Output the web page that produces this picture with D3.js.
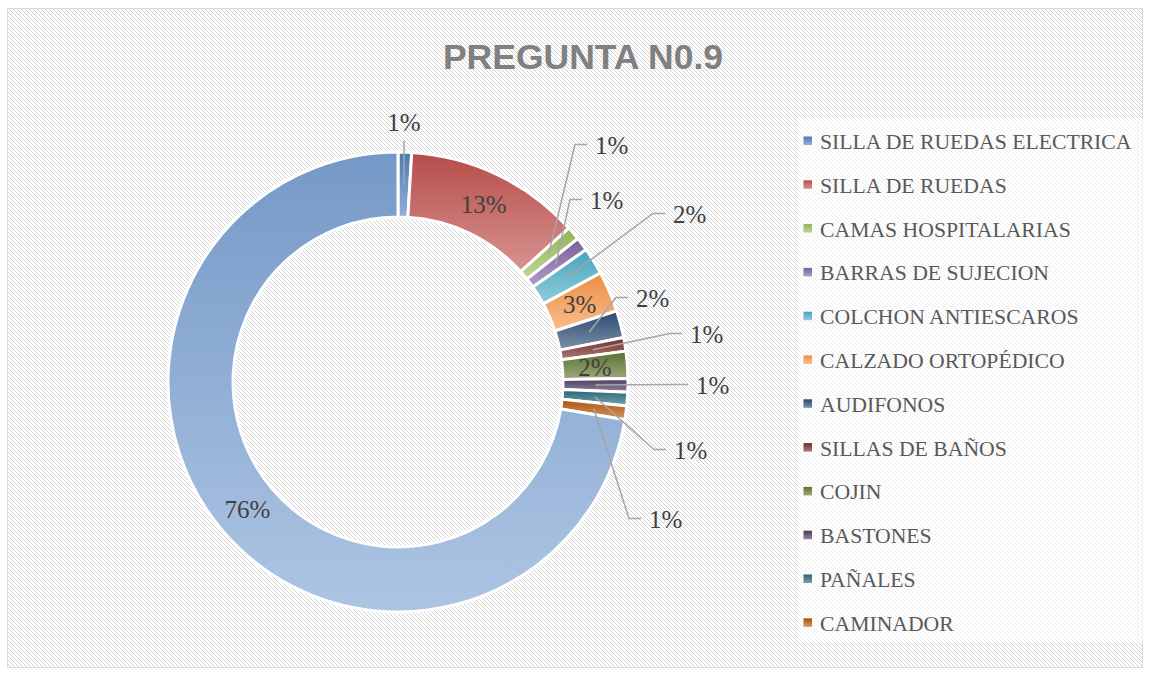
<!DOCTYPE html>
<html>
<head>
<meta charset="utf-8">
<script src="https://cdn.jsdelivr.net/npm/d3@7"></script>
<style>
  body { margin: 0; background: #fff; }
  svg { display: block; }
</style>
</head>
<body>
<div id="chart"></div>
<script>
// data (values were typed as percents, they add to 105)
const categories = ["SILLA DE RUEDAS ELECTRICA", "SILLA DE RUEDAS", "CAMAS HOSPITALARIAS",
  "BARRAS DE SUJECION", "COLCHON ANTIESCAROS", "CALZADO ORTOPÉDICO", "AUDIFONOS",
  "SILLAS DE BAÑOS", "COJIN", "BASTONES", "PAÑALES", "CAMINADOR", "NINGUNO"];
const values = [1, 13, 1, 1, 2, 3, 2, 1, 2, 1, 1, 1, 76];
const colors = ["#4F81BD", "#C0504D", "#9BBB59", "#8064A2", "#4BACC6", "#F79646",
  "#2C4D75", "#772C2A", "#5F7530", "#4D3B62", "#276A7C", "#B65708", "#7BA1D2"];
const legendCount = 12; // the last category does not fit in the legend box

// outside label spots (offset from the donut centre), null = label inside the slice
const labelSpots = [[6, -251], null, [197, -228], [192, -173], [275, -159], null,
  [238, -75], [292, -39], null, [298, 12], [276, 77], [251, 146], null];

const width = 1149, height = 675;
const cx = 398, cy = 382, rOuter = 230, rInner = 165;

let svg = d3.select("#chart").append("svg")
  .attr("width", width)
  .attr("height", height);

let defs = svg.append("defs");

// diagonal stripe background
let pat = defs.append("pattern")
  .attr("id", "stripes")
  .attr("patternUnits", "userSpaceOnUse")
  .attr("width", 4)
  .attr("height", 4);
pat.append("rect").attr("width", 4).attr("height", 4).attr("fill", "#fff");
pat.append("path")
  .attr("d", "M-1,-1 L5,5 M-1,3 L1,5 M3,-1 L5,1")
  .attr("stroke", "#d2d2d2")
  .attr("stroke-width", 1.2)
  .attr("shape-rendering", "crispEdges");

svg.append("rect")
  .attr("x", 7.5).attr("y", 8.5)
  .attr("width", 1135).attr("height", 659)
  .attr("fill", "url(#stripes)")
  .attr("stroke", "#d9d9d9")
  .attr("stroke-width", 1);

// gradients for every slice, darker on top, lighter below
colors.forEach(function(c, i) {
  let g = defs.append("linearGradient")
    .attr("id", "grad" + i)
    .attr("x1", 0).attr("y1", 0).attr("x2", 0).attr("y2", 1);
  g.append("stop").attr("offset", "0%").attr("stop-color", d3.color(c).darker(0.15));
  g.append("stop").attr("offset", "100%").attr("stop-color", d3.interpolateRgb(c, "#fff")(0.38));
});

// title
svg.append("text")
  .attr("x", 583)
  .attr("y", 69)
  .attr("text-anchor", "middle")
  .attr("font-family", "'Liberation Sans', Arial, sans-serif")
  .attr("font-weight", "bold")
  .attr("font-size", 35.5)
  .attr("fill", "#808080")
  .text("PREGUNTA N0.9");

let pie = d3.pie().sort(null).value(d => d);
let arcs = pie(values);
let arc = d3.arc().innerRadius(rInner).outerRadius(rOuter);

let g = svg.append("g").attr("transform", "translate(" + cx + "," + cy + ")");

g.selectAll("path.slice")
  .data(arcs)
  .enter().append("path")
  .attr("class", "slice")
  .attr("d", arc)
  .attr("fill", (d, i) => "url(#grad" + i + ")")
  .attr("stroke", "#fff")
  .attr("stroke-width", 3)
  .attr("stroke-linejoin", "round");

// leader lines
arcs.forEach(function(d, i) {
  let spot = labelSpots[i];
  if (!spot) return;
  let c = arc.centroid(d);
  let pts;
  if (i == 0) {
    pts = [[spot[0], spot[1] + 10], c];
  } else {
    pts = [[spot[0] - 8, spot[1] - 9.5], [spot[0] - 20, spot[1] - 9.5], c];
  }
  g.append("path")
    .attr("d", d3.line()(pts))
    .attr("fill", "none")
    .attr("stroke", "#a6a6a6")
    .attr("stroke-width", 1.5);
});

// percent labels
g.selectAll("text.pct")
  .data(arcs)
  .enter().append("text")
  .attr("class", "pct")
  .attr("x", (d, i) => labelSpots[i] ? labelSpots[i][0] : arc.centroid(d)[0])
  .attr("y", (d, i) => labelSpots[i] ? labelSpots[i][1] : arc.centroid(d)[1] + 8.5)
  .attr("text-anchor", (d, i) => (labelSpots[i] && i != 0) ? "start" : "middle")
  .attr("font-family", "'Liberation Serif', 'Times New Roman', serif")
  .attr("font-size", 25)
  .attr("fill", "#404040")
  .text(d => d.data + "%");

// legend
let legend = svg.append("g");
legend.append("rect")
  .attr("x", 798).attr("y", 118)
  .attr("width", 345).attr("height", 525)
  .attr("fill", "#fff")
  .attr("fill-opacity", 0.6);

let items = legend.selectAll("g.item")
  .data(categories.slice(0, legendCount))
  .enter().append("g")
  .attr("class", "item")
  .attr("transform", (d, i) => "translate(0," + (149 + i * 43.8) + ")");

items.append("rect")
  .attr("x", 803.5).attr("y", -12.5)
  .attr("width", 8.5).attr("height", 8.5)
  .attr("fill", (d, i) => "url(#grad" + i + ")");

items.append("text")
  .attr("x", 820)
  .attr("y", 0)
  .attr("font-family", "'Liberation Serif', 'Times New Roman', serif")
  .attr("font-size", 21.7)
  .attr("fill", "#595959")
  .text(d => d);
</script>
</body>
</html>
